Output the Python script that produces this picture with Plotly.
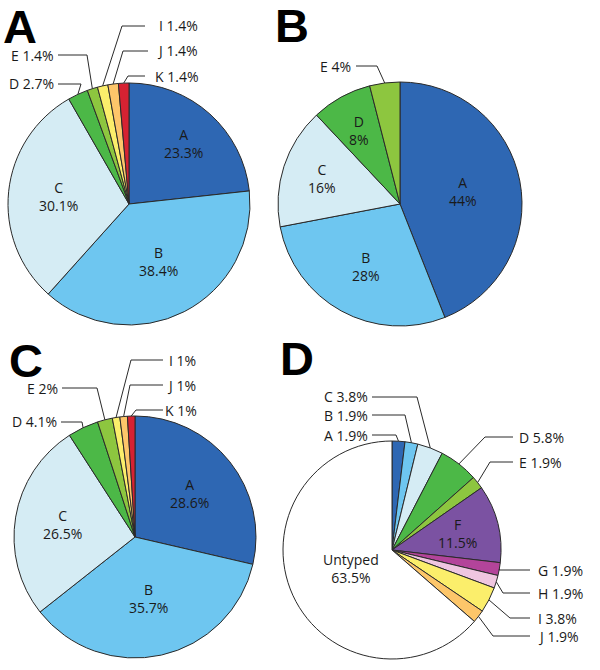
import math
import plotly.graph_objects as go

W, H = 600, 670

# ---------------- data ----------------
panel_letters = ["A", "B", "C", "D"]

a_labels = ["A", "B", "C", "D", "E", "I", "J", "K"]
a_values = [23.3, 38.4, 30.1, 2.7, 1.4, 1.4, 1.4, 1.4]

b_labels = ["A", "B", "C", "D", "E"]
b_values = [44, 28, 16, 8, 4]

c_labels = ["A", "B", "C", "D", "E", "I", "J", "K"]
c_values = [28.6, 35.7, 26.5, 4.1, 2, 1, 1, 1]

d_labels = ["A", "B", "C", "D", "E", "F", "G", "H", "I", "J", "Untyped"]
d_values = [1.9, 1.9, 3.8, 5.8, 1.9, 11.5, 1.9, 1.9, 3.8, 1.9, 63.5]

# ---------------- styles ----------------
colors = {
    "A": "#2E67B3", "B": "#6EC6F0", "C": "#D5ECF4", "D": "#4CB847",
    "E": "#8DC63F", "F": "#7B52A2", "G": "#B3449A", "H": "#EFC6E0",
    "I": "#FBEE6B", "J": "#FDC66A", "K": "#D62232", "Untyped": "#FFFFFF",
}
FONT = "Open Sans"
FS = 14
LINE_COLOR = "#2a2a2a"
LETTER_BOX_H = 38

# panel geometry in pixels: centre, radius, letter position (top of text box)
panels = [
    dict(letter=panel_letters[0], labels=a_labels, values=a_values,
         cx=129, cy=204, r=121, lx=20, ly=6,
         inside={"A": 0.67, "B": 0.53, "C": 0.59},
         outside={  # label: (xanchor, text_x, text_y, elbow_x, line_x)
             "D": ("right", 56, 84, 81, 58),
             "E": ("right", 56, 55, 87, 58),
             "I": ("right", 200, 26, 122, 145),
             "J": ("right", 200, 51, 123, 148),
             "K": ("right", 200, 76, 128, 145),
         }),
    dict(letter=panel_letters[1], labels=b_labels, values=b_values,
         cx=400, cy=204, r=122, lx=292, ly=5,
         inside={"A": 0.525, "B": 0.58, "C": 0.67, "D": 0.69},
         outside={"E": ("right", 353, 66, 377, 356)}),
    dict(letter=panel_letters[2], labels=c_labels, values=c_values,
         cx=135, cy=537, r=121, lx=26, ly=340,
         inside={"A": 0.58, "B": 0.52, "C": 0.61},
         outside={
             "D": ("right", 59, 422, 82, 61),
             "E": ("right", 60, 388, 97, 62),
             "I": ("right", 198, 360, 131, 163),
             "J": ("right", 198, 385, 130, 163),
             "K": ("right", 199, 410, 136, 163),
         }),
    dict(letter=panel_letters[3], labels=d_labels, values=d_values,
         cx=392, cy=550, r=109, lx=297, ly=338,
         inside={"F": 0.62, "Untyped": 0.41},
         outside={
             "A": ("right", 370, 435, 396, 372),
             "B": ("right", 370, 415, 405, 372),
             "C": ("right", 370, 397, 417, 372),
             "D": ("left", 517, 437, 485, 513),
             "E": ("left", 517, 462, 490, 513),
             "G": ("left", 536, 570, None, 530),
             "H": ("left", 536, 593, 503, 530),
             "I": ("left", 536, 618, 510, 530),
             "J": ("left", 536, 636, 493, 530),
         }),
]


def px(x):
    return x / W


def py(y):
    return 1 - y / H


def pct(v):
    return f"{v:g}%"


fig = go.Figure()
annotations = []
shapes = []

for p in panels:
    cx, cy, r = p["cx"], p["cy"], p["r"]
    labels, values = p["labels"], p["values"]
    fig.add_trace(go.Pie(
        labels=labels, values=values, sort=False, direction="clockwise",
        rotation=0, textinfo="none", hoverinfo="label+value",
        marker=dict(colors=[colors[l] for l in labels],
                    line=dict(color=LINE_COLOR, width=1)),
        domain=dict(x=[px(cx - r), px(cx + r)], y=[py(cy + r), py(cy - r)]),
        showlegend=False,
    ))
    total = sum(values)
    cum = 0.0
    for lab, v in zip(labels, values):
        mid = (cum + v / 2) / total * 2 * math.pi
        cum += v
        sx, sy = math.sin(mid), -math.cos(mid)
        if lab in p["inside"]:
            f = p["inside"][lab]
            annotations.append(dict(
                x=px(cx + f * r * sx), y=py(cy + f * r * sy),
                xref="paper", yref="paper", showarrow=False,
                text=f"{lab}<br>{pct(v)}", align="center",
                xanchor="center", yanchor="middle",
                font=dict(family=FONT, size=FS, color="#1a1a1a")))
        if lab in p["outside"]:
            xa, tx, ty, ex, lx = p["outside"][lab]
            ax, ay = cx + r * sx, cy + r * sy
            if ex is None:
                ex = ax
            annotations.append(dict(
                x=px(tx), y=py(ty), xref="paper", yref="paper",
                showarrow=False, text=f"{lab} {pct(v)}",
                xanchor=xa, yanchor="middle",
                font=dict(family=FONT, size=FS, color="#1a1a1a")))
            shapes.append(dict(
                type="path", xref="paper", yref="paper",
                path=f"M {px(ax)},{py(ay)} L {px(ex)},{py(ty)} L {px(lx)},{py(ty)}",
                line=dict(color=LINE_COLOR, width=1)))
    annotations.append(dict(
        x=px(p["lx"]), y=py(p["ly"]), xref="paper", yref="paper",
        showarrow=False, text=f"<b>{p['letter']}</b>", borderpad=0,
        height=LETTER_BOX_H, valign="middle",
        xanchor="center", yanchor="top",
        font=dict(family="Liberation Sans", size=47, color="#000000")))

fig.update_layout(
    width=W, height=H,
    margin=dict(l=0, r=0, t=0, b=0),
    paper_bgcolor="white", plot_bgcolor="white",
    annotations=annotations, shapes=shapes,
)

fig.write_html("out.html", config={"displayModeBar": False},
               post_script="document.body.style.margin='0px';")
